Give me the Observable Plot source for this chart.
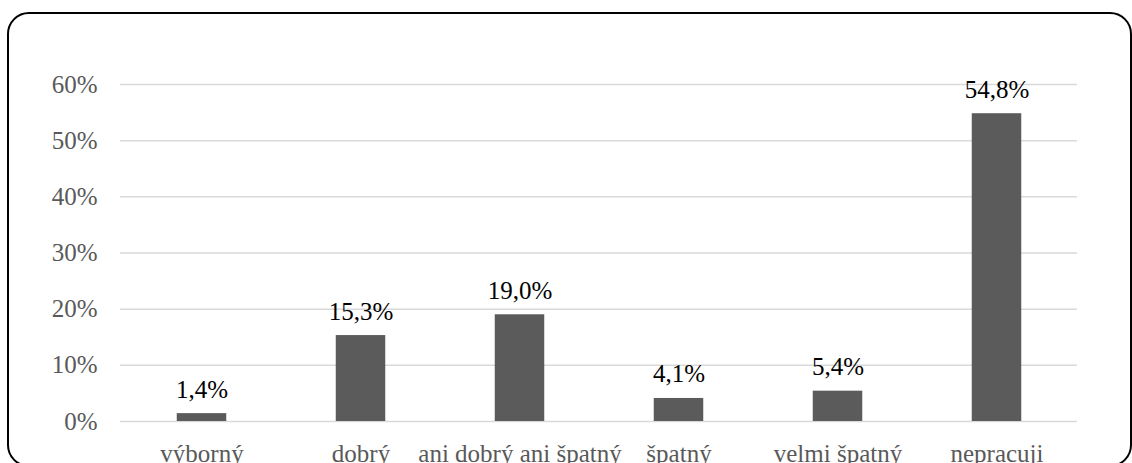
<!DOCTYPE html>
<html>
<head>
<meta charset="utf-8">
<script src="https://cdn.jsdelivr.net/npm/d3@7"></script>
<script src="https://cdn.jsdelivr.net/npm/@observablehq/plot@0.6"></script>
<style>
  html, body { margin: 0; padding: 0; background: #fff; overflow: hidden; }
  #wrap { position: relative; width: 1132px; height: 463px; overflow: hidden; }
  #box {
    position: absolute; left: 7px; top: 12px; width: 1125px; height: 455px;
    box-sizing: border-box; border: 2px solid #000; border-radius: 22px;
    pointer-events: none; z-index: 2;
  }
  #chart { position: absolute; left: 0; top: 0; }
  #chart svg, #chart svg text { font-family: "Liberation Serif", serif !important; }
</style>
</head>
<body>
<div id="wrap">
  <div id="chart"></div>
  <div id="box"></div>
</div>
<script>
// Categories along the x axis
const categories = ["výborný", "dobrý", "ani dobrý ani špatný", "špatný", "velmi špatný", "nepracuji"];
// Share of respondents, in percent
const values = [1.4, 15.3, 19.0, 4.1, 5.4, 54.8];
// Y axis ticks, in percent
const yTicks = [0, 10, 20, 30, 40, 50, 60];

const data = categories.map((c, i) => ({category: c, value: values[i]}));
const fmt = v => v.toFixed(1).replace(".", ",") + "%";
const font = "Liberation Serif";

const chart = Plot.plot({
  width: 1132,
  height: 463,
  marginLeft: 120,
  marginRight: 55,
  marginTop: 84,
  marginBottom: 42,
  style: {background: "transparent", fontFamily: font, fontSize: "25px", color: "#595959"},
  x: {domain: categories, padding: 0, label: null},
  y: {domain: [0, 60], label: null},
  marks: [
    Plot.gridY(yTicks, {stroke: "#d9d9d9", strokeOpacity: 1, strokeWidth: 1.5}),
    Plot.barY(data, {x: "category", y: "value", fill: "#5b5b5b", insetLeft: 54.75, insetRight: 54.75}),
    Plot.text(data, {x: "category", y: "value", text: d => fmt(d.value), lineAnchor: "bottom", dy: -16, fill: "#000", fontSize: 25, fontFamily: font}),
    Plot.axisY(yTicks, {tickSize: 0, tickPadding: 23, tickFormat: d => d + "%", fill: "#595959", fontSize: 25, fontFamily: font, label: null}),
    Plot.axisX({tickSize: 0, tickPadding: 23, fill: "#595959", fontSize: 25, fontFamily: font, label: null})
  ]
});
document.getElementById("chart").appendChild(chart);
</script>
</body>
</html>
